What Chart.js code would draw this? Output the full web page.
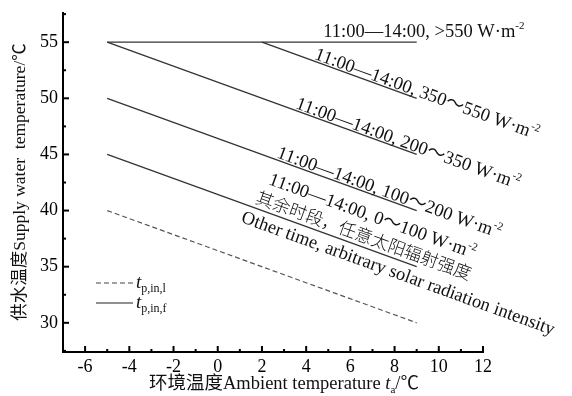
<!DOCTYPE html>
<html>
<head>
<meta charset="utf-8">
<script src="https://cdn.jsdelivr.net/npm/chart.js@4/dist/chart.umd.min.js"></script>
<style>
  html, body { margin: 0; padding: 0; background: #fff; }
</style>
</head>
<body>
<canvas id="chart" width="572" height="396"></canvas>
<script>
// 数据
const ambientX = [-5, 9];
const over550 = [55, 55];
const r350_550X = [2, 9];
const r350_550 = [55, 50];
const r200_350 = [55, 45];
const r100_200 = [50, 40];
const r0_100 = [45, 35];
const lowerLimit = [40, 30];

const xTicks = [-6, -4, -2, 0, 2, 4, 6, 8, 10, 12];
const yTicks = [30, 35, 40, 45, 50, 55];

const SERIF = '"Liberation Serif", "Times New Roman", "Noto Sans CJK SC", serif';
const CJK = '"Noto Sans CJK SC", sans-serif';

function pts(xs, ys) {
    return xs.map((x, i) => ({ x: x, y: ys[i] }));
}

function drawRich(ctx, x, y, parts) {
    let cx = x;
    parts.forEach(p => {
        ctx.font = p.font;
        ctx.fillText(p.t, cx, y + (p.dy || 0));
        cx += ctx.measureText(p.t).width;
    });
}

function wm(text) {
    return [
        { t: text + ' W·m', font: '18.5px ' + SERIF },
        { t: '-2', font: '11px ' + SERIF, dy: -8 }
    ];
}

// 线上标注 (dataset index, 起点 x, 垂直偏移 px)
const notes = [
    { ds: 0, x: 4.77, off: 5, parts: wm('11:00—14:00, >550') },
    { ds: 1, x: 4.3, off: 2, parts: wm('11:00—14:00, 350～550') },
    { ds: 2, x: 3.45, off: 2, parts: wm('11:00—14:00, 200～350') },
    { ds: 3, x: 2.6, off: 2, parts: wm('11:00—14:00, 100～200') },
    { ds: 4, x: 1.85, off: 27, parts: wm('11:00—14:00, 0～100') },
    { ds: 4, x: 1.6, off: 5, parts: [{ t: '其余时段，任意太阳辐射强度', font: '300 17.5px ' + CJK }] },
    { ds: 4, x: 1.3, off: -18, parts: [{ t: 'Other time, arbitrary solar radiation intensity', font: '18.5px ' + SERIF }] }
];

const decor = {
    id: 'decor',
    afterDraw(chart) {
        const ctx = chart.ctx;
        const xs = chart.scales.x, ys = chart.scales.y;
        const area = chart.chartArea;
        ctx.save();
        ctx.strokeStyle = '#000';
        ctx.fillStyle = '#000';
        ctx.lineWidth = 2;
        // 刻度 (朝内)
        for (let v = -7; v <= 12; v++) {
            const px = xs.getPixelForValue(v);
            const len = v % 2 === 0 ? 6 : 3;
            ctx.beginPath();
            ctx.moveTo(px, area.bottom);
            ctx.lineTo(px, area.bottom - len);
            ctx.stroke();
        }
        for (let v = 27.5; v <= 57.5; v += 2.5) {
            const py = ys.getPixelForValue(v);
            const len = v % 5 === 0 ? 6 : 3;
            ctx.beginPath();
            ctx.moveTo(area.left, py);
            ctx.lineTo(area.left + len, py);
            ctx.stroke();
        }

        // 线上标注
        ctx.textBaseline = 'alphabetic';
        ctx.textAlign = 'left';
        ctx.fillStyle = '#111';
        notes.forEach(n => {
            const d = chart.data.datasets[n.ds].data;
            const a = d[0], b = d[d.length - 1];
            const y = a.y + (b.y - a.y) * (n.x - a.x) / (b.x - a.x);
            const x0 = xs.getPixelForValue(a.x), y0 = ys.getPixelForValue(a.y);
            const x1 = xs.getPixelForValue(b.x), y1 = ys.getPixelForValue(b.y);
            const ang = Math.atan2(y1 - y0, x1 - x0);
            ctx.save();
            ctx.translate(xs.getPixelForValue(n.x), ys.getPixelForValue(y));
            ctx.rotate(ang);
            drawRich(ctx, 0, -n.off, n.parts);
            ctx.restore();
        });

        // 图例
        ctx.strokeStyle = '#444';
        ctx.lineWidth = 1.2;
        ctx.setLineDash([5, 3]);
        ctx.beginPath();
        ctx.moveTo(96, 283);
        ctx.lineTo(133, 283);
        ctx.stroke();
        ctx.setLineDash([]);
        ctx.strokeStyle = '#222';
        ctx.beginPath();
        ctx.moveTo(96, 303);
        ctx.lineTo(133, 303);
        ctx.stroke();
        drawRich(ctx, 136, 288, [
            { t: 't', font: 'italic 19px ' + SERIF },
            { t: 'p,in,l', font: '12px ' + SERIF, dy: 4 }
        ]);
        drawRich(ctx, 136, 308, [
            { t: 't', font: 'italic 19px ' + SERIF },
            { t: 'p,in,f', font: '12px ' + SERIF, dy: 4 }
        ]);

        // 坐标轴标题
        drawRich(ctx, 149, 389, [
            { t: '环境温度Ambient temperature ', font: '18.5px ' + SERIF },
            { t: 't', font: 'italic 18.5px ' + SERIF },
            { t: 'a', font: '11px ' + SERIF, dy: 4 },
            { t: '/℃', font: '18.5px ' + SERIF }
        ]);
        ctx.translate(25, 182);
        ctx.rotate(-Math.PI / 2);
        ctx.textAlign = 'center';
        ctx.font = '17.5px ' + SERIF;
        ctx.fillText('供水温度Supply water  temperature/℃', 0, 0);
        ctx.restore();
    }
};

const solid = { borderColor: '#333', borderWidth: 1.3, pointRadius: 0, fill: false, tension: 0 };

new Chart(document.getElementById('chart'), {
    type: 'line',
    data: {
        datasets: [
            { ...solid, data: pts(ambientX, over550) },
            { ...solid, data: pts(r350_550X, r350_550) },
            { ...solid, data: pts(ambientX, r200_350) },
            { ...solid, data: pts(ambientX, r100_200) },
            { ...solid, data: pts(ambientX, r0_100) },
            { ...solid, borderColor: '#555', borderWidth: 1.2, borderDash: [5, 3], data: pts(ambientX, lowerLimit) }
        ]
    },
    options: {
        responsive: false,
        animation: false,
        devicePixelRatio: 1,
        layout: { padding: { top: 13, right: 89, left: 0, bottom: 0 } },
        plugins: { legend: { display: false }, tooltip: { enabled: false } },
        scales: {
            x: {
                type: 'linear',
                min: -7,
                max: 12,
                afterBuildTicks: s => { s.ticks = xTicks.map(v => ({ value: v })); },
                afterFit: s => { s.height = 44; s.paddingLeft = 0; s.paddingRight = 0; },
                grid: { display: false, drawTicks: false },
                border: { display: true, color: '#000', width: 2 },
                ticks: { color: '#000', padding: 4, font: { family: SERIF, size: 18 } }
            },
            y: {
                min: 27.4,
                max: 57.6,
                afterBuildTicks: s => { s.ticks = yTicks.map(v => ({ value: v })); },
                afterFit: s => { s.width = 63; s.paddingTop = 0; s.paddingBottom = 0; },
                grid: { display: false, drawTicks: false },
                border: { display: true, color: '#000', width: 2 },
                ticks: { color: '#000', padding: 5, font: { family: SERIF, size: 18 } }
            }
        }
    },
    plugins: [decor]
});
</script>
</body>
</html>
